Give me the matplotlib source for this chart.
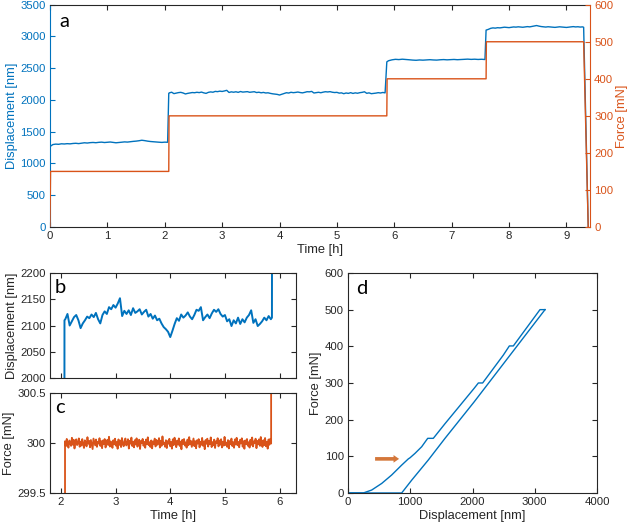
import numpy as np
import matplotlib
matplotlib.use("Agg")
import matplotlib.pyplot as plt

plt.rcParams['font.family'] = ['Liberation Sans', 'DejaVu Sans']

BLUE = '#0072BD'
ORANGE = '#D95319'
DARK = '#262626'
ARROW = '#D4773A'

# ---------------- data ----------------
# panel a: force steps (time [h], force [mN])
a_force_time = [0.0, 0.01, 2.07, 2.075, 5.87, 5.875, 7.60, 7.605, 9.30, 9.38]
a_force_val = [0, 150, 150, 300, 300, 400, 400, 500, 500, 0]

# panel a: displacement, segment at 150 mN
seg1_time = [0.05, 0.10, 0.15, 0.20, 0.25, 0.30, 0.35, 0.40, 0.45, 0.50,
             0.55, 0.60, 0.65, 0.70, 0.75, 0.80, 0.85, 0.90, 0.95, 1.00,
             1.05, 1.10, 1.15, 1.20, 1.25, 1.30, 1.35, 1.40, 1.45, 1.50,
             1.55, 1.60, 1.65, 1.70, 1.75, 1.80, 1.85, 1.90, 1.95, 2.00, 2.05]
seg1_disp = [1298, 1305, 1302, 1310, 1307, 1312, 1309, 1315, 1318, 1313,
             1320, 1326, 1322, 1328, 1331, 1327, 1333, 1336, 1330, 1334,
             1338, 1332, 1326, 1330, 1335, 1340, 1337, 1343, 1348, 1352,
             1358, 1366, 1360, 1352, 1346, 1342, 1338, 1335, 1332, 1336, 1334]

# segment at 300 mN (also panel b)
b_time = [2.08, 2.12, 2.16, 2.20, 2.24, 2.28, 2.32, 2.36, 2.40, 2.44,
          2.48, 2.52, 2.56, 2.60, 2.64, 2.68, 2.72, 2.76, 2.80, 2.84,
          2.88, 2.92, 2.96, 3.00, 3.04, 3.08, 3.12, 3.16, 3.20, 3.24,
          3.28, 3.32, 3.36, 3.40, 3.44, 3.48, 3.52, 3.56, 3.60, 3.64,
          3.68, 3.72, 3.76, 3.80, 3.84, 3.88, 3.92, 3.96, 4.00, 4.04,
          4.08, 4.12, 4.16, 4.20, 4.24, 4.28, 4.32, 4.36, 4.40, 4.44,
          4.48, 4.52, 4.56, 4.60, 4.64, 4.68, 4.72, 4.76, 4.80, 4.84,
          4.88, 4.92, 4.96, 5.00, 5.04, 5.08, 5.12, 5.16, 5.20, 5.24,
          5.28, 5.32, 5.36, 5.40, 5.44, 5.48, 5.52, 5.56, 5.60, 5.64,
          5.68, 5.72, 5.76, 5.80, 5.84]
b_disp = [2112, 2122, 2100, 2108, 2116, 2120, 2110, 2095, 2104, 2110,
          2117, 2114, 2121, 2116, 2124, 2112, 2104, 2120, 2127, 2122,
          2135, 2131, 2139, 2134, 2142, 2152, 2118, 2128, 2122, 2129,
          2120, 2133, 2124, 2127, 2131, 2121, 2126, 2130, 2117, 2122,
          2113, 2119, 2110, 2113, 2104, 2097, 2093, 2088, 2078, 2090,
          2103, 2114, 2109, 2121, 2115, 2119, 2125, 2117, 2112, 2120,
          2130, 2128, 2135, 2110, 2116, 2121, 2114, 2123, 2130, 2126,
          2131, 2122, 2117, 2120, 2108, 2112, 2099, 2110, 2104, 2115,
          2103, 2112, 2106, 2115, 2120, 2129, 2105, 2112, 2099, 2103,
          2108, 2115, 2110, 2118, 2112]

# segment at 400 mN
seg3_time = [5.90, 5.96, 6.02, 6.08, 6.14, 6.20, 6.26, 6.32, 6.38, 6.44,
             6.50, 6.56, 6.62, 6.68, 6.74, 6.80, 6.86, 6.92, 6.98, 7.04,
             7.10, 7.16, 7.22, 7.28, 7.34, 7.40, 7.46, 7.52, 7.58]
seg3_disp = [2618, 2632, 2640, 2636, 2642, 2638, 2633, 2628, 2625, 2630,
             2627, 2631, 2634, 2630, 2628, 2633, 2636, 2632, 2635, 2638,
             2634, 2637, 2640, 2643, 2639, 2642, 2638, 2641, 2637]

# segment at 500 mN
seg4_time = [7.64, 7.68, 7.72, 7.76, 7.80, 7.84, 7.88, 7.92, 7.96, 8.00,
             8.04, 8.08, 8.12, 8.16, 8.20, 8.24, 8.28, 8.32, 8.36, 8.40,
             8.44, 8.48, 8.52, 8.56, 8.60, 8.64, 8.68, 8.72, 8.76, 8.80,
             8.84, 8.88, 8.92, 8.96, 9.00, 9.04, 9.08, 9.12, 9.16, 9.20,
             9.24, 9.28]
seg4_disp = [3112, 3128, 3135, 3131, 3138, 3135, 3141, 3146, 3143, 3139,
             3144, 3150, 3147, 3152, 3148, 3145, 3150, 3155, 3151, 3158,
             3166, 3172, 3163, 3156, 3152, 3148, 3153, 3150, 3146, 3143,
             3148, 3152, 3149, 3145, 3142, 3147, 3151, 3155, 3150, 3153,
             3148, 3151]

# panel c: force noise around 300 mN, in thousandths of mN
c_dev_milli = [
    18, -32, 41, -12, -47, 25, 6, -29, 52, -18, 33, -55, 10, 37, -21, -3, 46, -38, 14, -26,
    39, -9, -50, 27, 2, -34, 58, -7, 21, -43, 30, -16, -61, 44, 8, -24, 35, -39, 12, -5,
    48, -30, 19, -52, 26, -11, 40, -45, 5, 31, -20, 62, -36, 15, -8, -49, 28, -14, 43, -27,
    9, -58, 36, -19, 24, -41, 50, -3, -33, 17, 45, -25, -10, 38, -56, 22, -6, 54, -31, 13,
    -44, 29, -15, 47, -37, 4, 33, -60, 20, -2, 41, -28, 11, -48, 35, -13, 57, -22, 7, -40,
    26, -54, 16, -9, 44, -35, 31, -18, -4, 49, -46, 23, -29, 66, -12, 3, -38, 28, -51, 19,
    -7, 42, -33, 10, -57, 37, -21, 53, -1, -42, 24, -16, 46, -30, 14, -63, 32, -11, 40, -26,
    6, -47, 34, -23, 59, -14, 21, -39, 1, 45, -32, 18, -53, 27, -6, 39, -44, 12, -19, 51,
    -28, 15, -62, 30, -8, 43, -36, 22, -13, 56, -41, 9, -24, 34, -50, 17, -2, 48, -34, 25,
    -17, 38, -45, 13, -27, 61, -20, 4, -39, 29, -55, 20, -10, 44, -31, 8, -48, 36, -15, 52,
    -23, 11, -43, 32, -5, 47, -37, 18, -58, 26, -12, 40, -28, 7, -46, 33, -19, 55, -35, 16,
    -1, 43, -52, 21, -14, 37, -29, 60, -9, -40, 28, -22, 50, -33, 10, -57, 35, -18, 42, -6]
c_time_start, c_time_end = 2.07, 5.85

# panel d: loading and unloading
d_load_disp = [0, 246, 380, 541, 701, 862, 969, 996, 1076, 1183, 1280, 1370,
               1558, 1772, 2029, 2094, 2163, 2495, 2592, 2656, 3084, 3165]
d_load_force = [0, 0, 8, 26, 49, 76, 93, 96, 108, 126, 149, 149,
                189, 233, 286, 300, 300, 376, 401, 401, 500, 500]
d_unload_disp = [3165, 2029, 1558, 1290, 1023, 862, 0]
d_unload_force = [500, 249, 149, 90, 35, 0, 0]

# ---------------- figure ----------------
fig = plt.figure(figsize=(6.4, 5.29), dpi=100)
TICK = 8.2
LAB = 9.3


def style_box(ax):
    for s in ax.spines.values():
        s.set_color(DARK)
        s.set_linewidth(0.8)
    ax.tick_params(direction='in', length=3.5, width=0.8, colors=DARK,
                   labelsize=TICK, top=True, right=True, pad=3)


def letter(ax, s, dx, dy):
    ax.annotate(s, xy=(0, 1), xycoords='axes fraction', xytext=(dx, dy),
                textcoords='offset points', fontsize=14.5, family=['Lato', 'DejaVu Sans'],
                color='black', va='baseline', ha='left')


# panel a
ax = fig.add_axes([0.0781, 0.5709, 0.8437, 0.4202])
ax2 = ax.twinx()
t_disp = [0.0, 0.005] + seg1_time + [2.07] + b_time + [5.87] + seg3_time + [7.60] + seg4_time + [9.30, 9.38]
v_disp = [0, 1270] + seg1_disp + [2105] + b_disp + [2600] + seg3_disp + [3100] + seg4_disp + [3145, 0]
ax.plot(t_disp, v_disp, color=BLUE, lw=1.0)
ax2.plot(a_force_time, a_force_val, color=ORANGE, lw=1.0)
ax.set_xlim(0, 9.41)
ax.set_ylim(0, 3500)
ax2.set_ylim(0, 600)
ax.set_yticks(np.arange(0, 3501, 500))
ax2.set_yticks(np.arange(0, 601, 100))
ax.set_xticks(range(0, 10))
for s in ['top', 'bottom']:
    ax.spines[s].set_color(DARK)
    ax.spines[s].set_linewidth(0.8)
ax.spines['left'].set_color(BLUE)
ax.spines['left'].set_linewidth(0.8)
ax.spines['right'].set_visible(False)
ax2.spines['right'].set_color(ORANGE)
ax2.spines['right'].set_linewidth(0.8)
ax2.spines['left'].set_visible(False)
ax2.spines['top'].set_visible(False)
ax2.spines['bottom'].set_visible(False)
ax.tick_params(axis='x', direction='in', length=3.5, width=0.8, colors=DARK,
               labelsize=TICK, top=True, pad=3)
ax.tick_params(axis='y', direction='in', length=3.5, width=0.8, colors=BLUE,
               labelsize=TICK, pad=3)
ax2.tick_params(axis='y', direction='in', length=3.5, width=0.8, colors=ORANGE,
                labelsize=TICK, pad=3)
ax.set_xlabel('Time [h]', fontsize=LAB, color=DARK, labelpad=2)
ax.set_ylabel('Displacement [nm]', fontsize=LAB, color=BLUE, labelpad=2)
ax2.set_ylabel('Force [mN]', fontsize=LAB, color=ORANGE, labelpad=2)
letter(ax, 'a', 6.5, -16)

# panel b
axb = fig.add_axes([0.0781, 0.2854, 0.3844, 0.1985])
axb.plot([2.061, 2.065] + b_time + [5.86, 5.865], [1340, 2110] + b_disp + [2115, 2640],
         color=BLUE, lw=1.4)
axb.set_xlim(1.8, 6.3)
axb.set_ylim(2000, 2200)
axb.set_yticks([2000, 2050, 2100, 2150, 2200])
axb.set_xticks([2, 3, 4, 5, 6])
axb.set_xticklabels([])
style_box(axb)
axb.set_ylabel('Displacement [nm]', fontsize=LAB, color=DARK, labelpad=2)
letter(axb, 'b', 3.6, -14.6)

# panel c
axc = fig.add_axes([0.0781, 0.0681, 0.3844, 0.189])
c_force = 300 + np.array(c_dev_milli) / 1000.0
c_time = np.linspace(c_time_start + 0.005, c_time_end - 0.005, len(c_force))
axc.plot(np.concatenate([[c_time_start], c_time, [c_time_end]]),
         np.concatenate([[150], c_force, [400]]), color=ORANGE, lw=1.3)
axc.set_xlim(1.8, 6.3)
axc.set_ylim(299.5, 300.5)
axc.set_yticks([299.5, 300, 300.5])
axc.set_yticklabels(['299.5', '300', '300.5'])
axc.set_xticks([2, 3, 4, 5, 6])
style_box(axc)
axc.set_xlabel('Time [h]', fontsize=LAB, color=DARK, labelpad=2)
axc.set_ylabel('Force [mN]', fontsize=LAB, color=DARK, labelpad=2)
letter(axc, 'c', 3.6, -14.6)

# panel d
axd = fig.add_axes([0.5438, 0.0681, 0.389, 0.4159])
axd.plot(d_load_disp, d_load_force, color=BLUE, lw=1.0)
axd.plot(d_unload_disp, d_unload_force, color=BLUE, lw=1.0)
axd.set_xlim(0, 4000)
axd.set_ylim(0, 600)
axd.set_xticks([0, 1000, 2000, 3000, 4000])
axd.set_yticks(np.arange(0, 601, 100))
style_box(axd)
axd.set_xlabel('Displacement [nm]', fontsize=LAB, color=DARK, labelpad=2)
axd.set_ylabel('Force [mN]', fontsize=LAB, color=DARK, labelpad=2)
axd.annotate('', xy=(865, 93), xytext=(390, 93),
             arrowprops=dict(arrowstyle='simple,head_width=0.55,head_length=0.4,tail_width=0.26',
                             color=ARROW, lw=0))
letter(axd, 'd', 5.8, -15.3)

fig.savefig('out.png', dpi=100)
